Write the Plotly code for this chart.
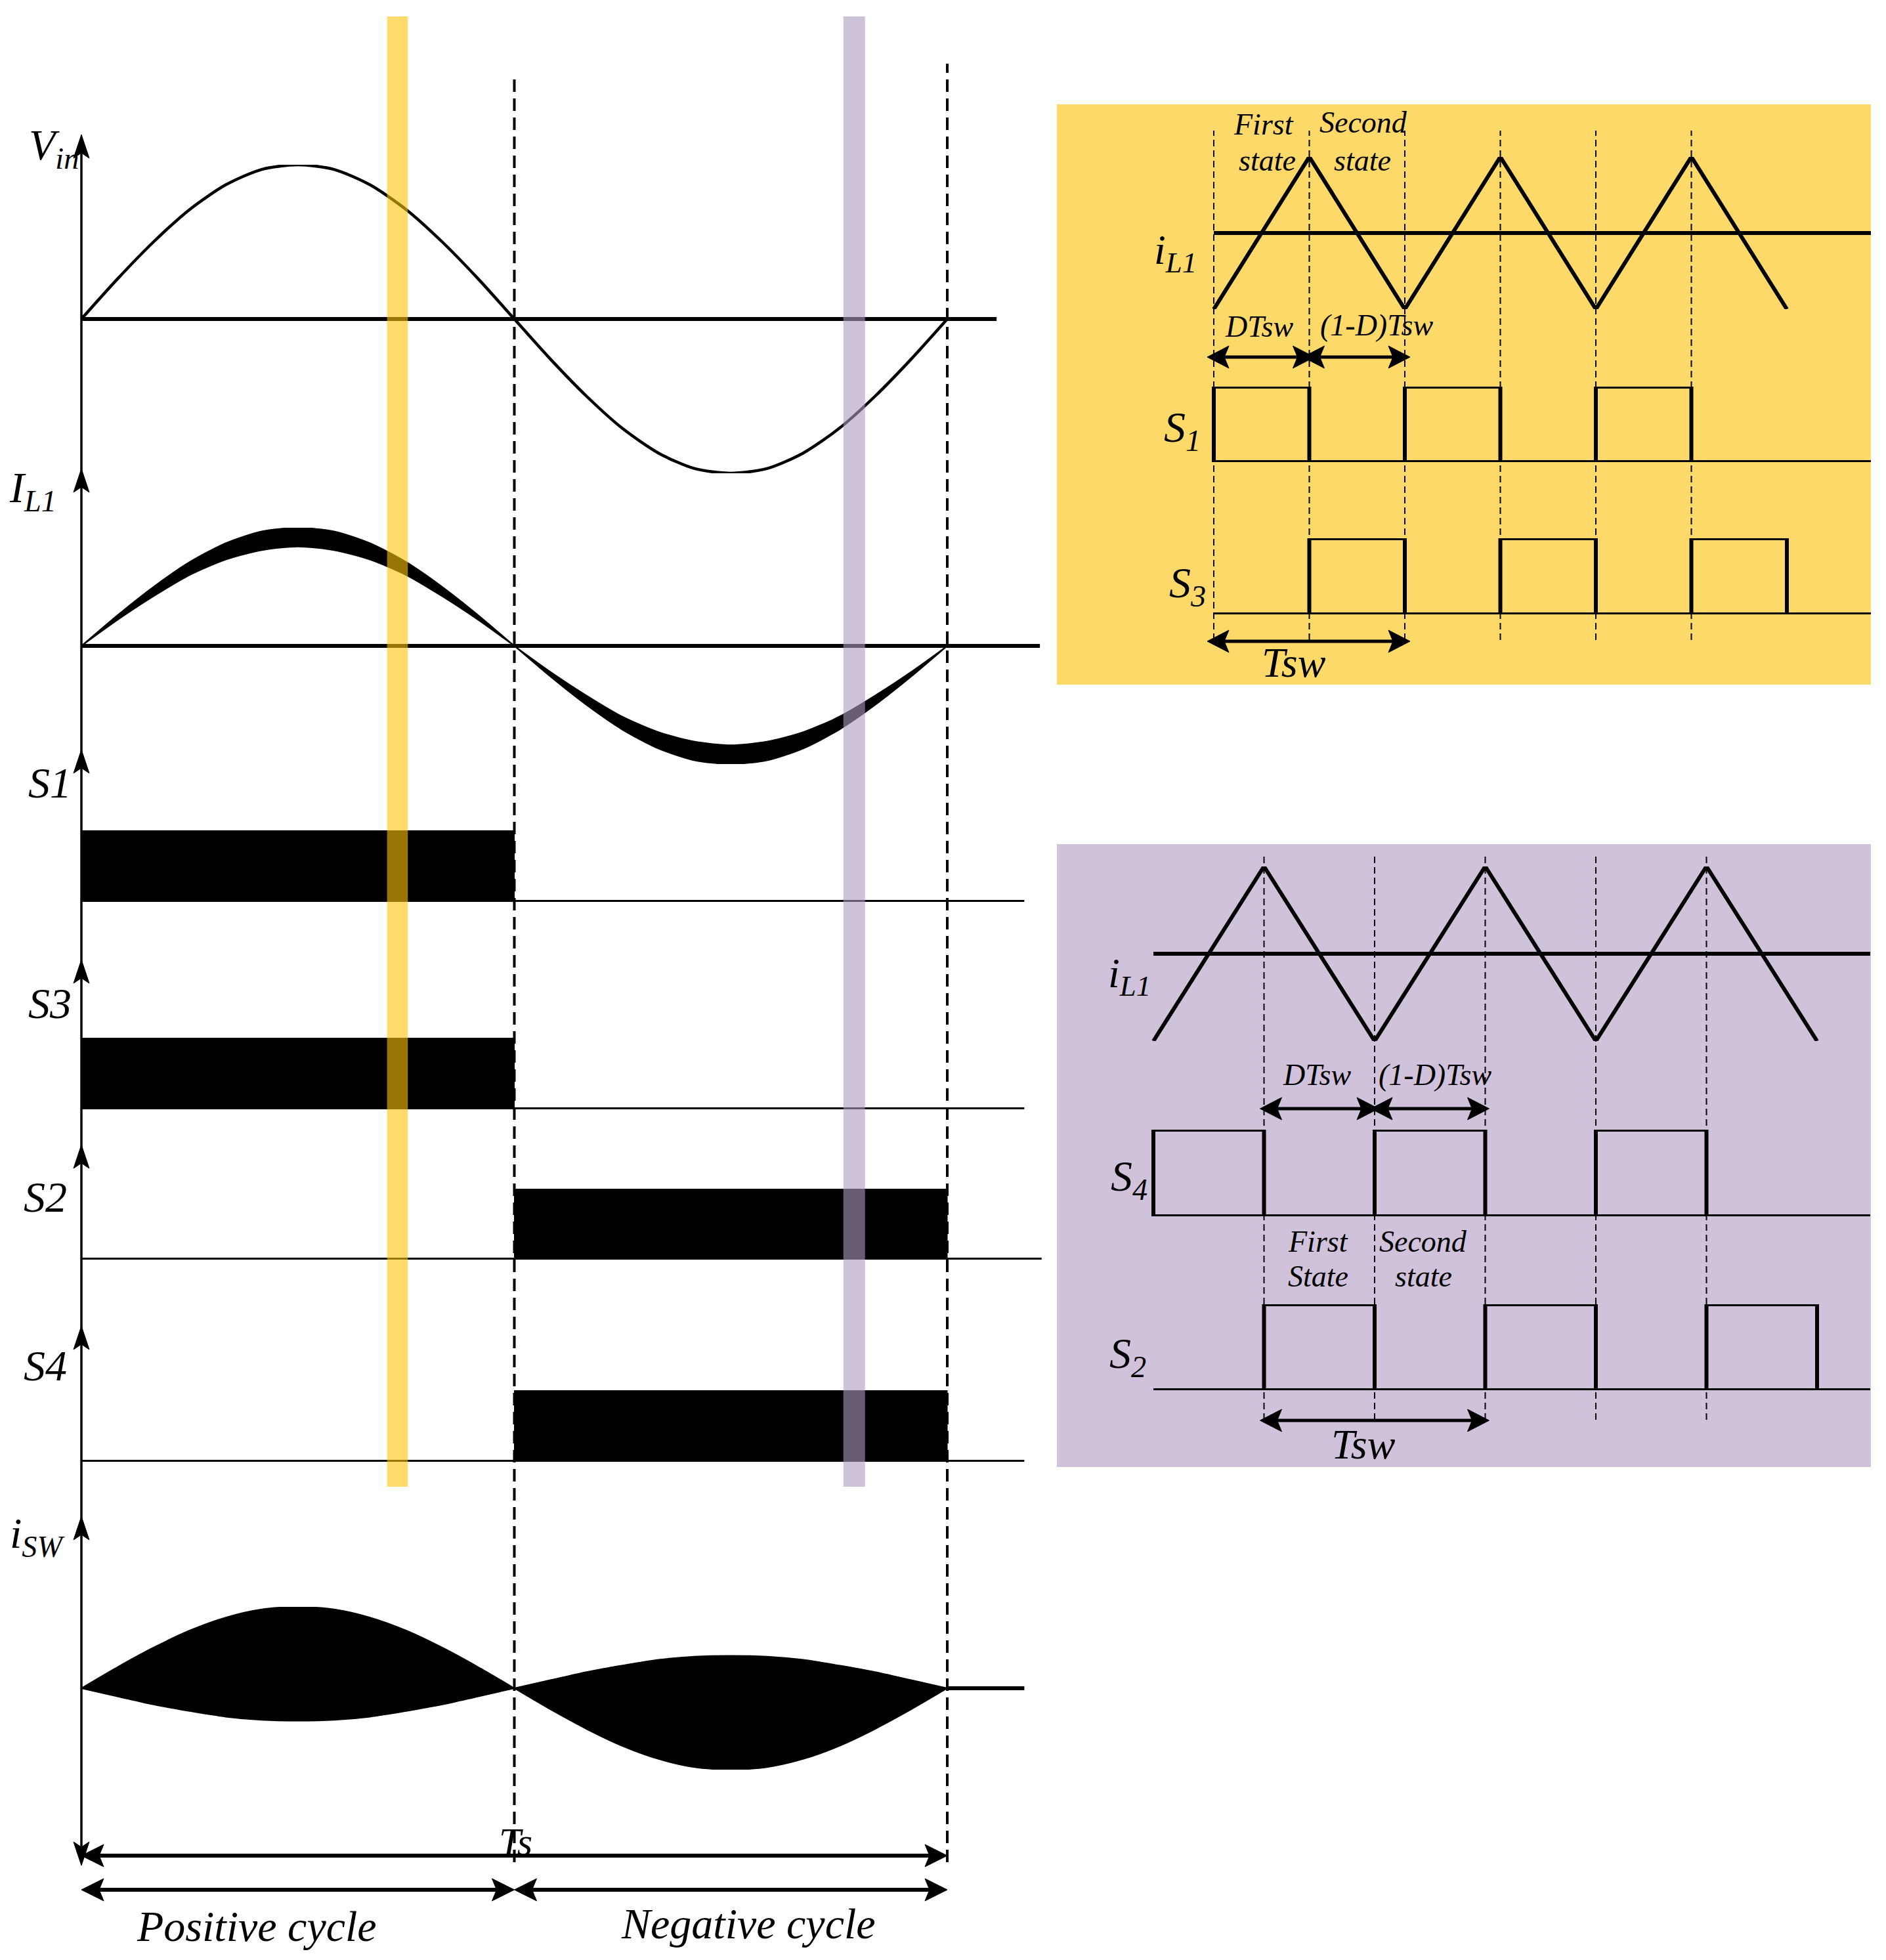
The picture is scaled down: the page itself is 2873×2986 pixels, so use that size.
import plotly.graph_objects as go

W, H = 2873, 2986
OFF = 8                     # page body margin of the html page
FW, FH = W - 2 * OFF, H - 2 * OFF
FONT = "Liberation Serif"

# ======================= DATA =======================
# Line-frequency waveforms, time as a fraction of the line period Ts
T_LINE = [0.0, 0.0417, 0.0833, 0.125, 0.1667, 0.2083, 0.25, 0.2917, 0.3333, 0.375, 0.4167, 0.4583,
          0.5, 0.5417, 0.5833, 0.625, 0.6667, 0.7083, 0.75, 0.7917, 0.8333, 0.875, 0.9167, 0.9583, 1.0]
VIN = [0.0, 0.26, 0.5, 0.71, 0.87, 0.97, 1.0, 0.97, 0.87, 0.71, 0.5, 0.26,
       0.0, -0.26, -0.5, -0.71, -0.87, -0.97, -1.0, -0.97, -0.87, -0.71, -0.5, -0.26, 0.0]
IL1_OUTER = [0.0, 0.26, 0.5, 0.71, 0.87, 0.97, 1.0, 0.97, 0.87, 0.71, 0.5, 0.26,
             0.0, -0.26, -0.5, -0.71, -0.87, -0.97, -1.0, -0.97, -0.87, -0.71, -0.5, -0.26, 0.0]
IL1_INNER = [0.0, 0.22, 0.42, 0.6, 0.73, 0.81, 0.84, 0.81, 0.73, 0.6, 0.42, 0.22,
             0.0, -0.22, -0.42, -0.6, -0.73, -0.81, -0.84, -0.81, -0.73, -0.6, -0.42, -0.22, 0.0]
T_POS_HALF = [0.0, 0.0417, 0.0833, 0.125, 0.1667, 0.2083, 0.25, 0.2917, 0.3333, 0.375, 0.4167, 0.4583, 0.5]
T_NEG_HALF = [0.5, 0.5417, 0.5833, 0.625, 0.6667, 0.7083, 0.75, 0.7917, 0.8333, 0.875, 0.9167, 0.9583, 1.0]
ISW_POS_UPPER = [0.0, 0.26, 0.5, 0.71, 0.87, 0.97, 1.0, 0.97, 0.87, 0.71, 0.5, 0.26, 0.0]
ISW_POS_LOWER = [0.0, -0.1, -0.2, -0.28, -0.35, -0.39, -0.4, -0.39, -0.35, -0.28, -0.2, -0.1, 0.0]
ISW_NEG_UPPER = [0.0, 0.1, 0.2, 0.28, 0.35, 0.39, 0.4, 0.39, 0.35, 0.28, 0.2, 0.1, 0.0]
ISW_NEG_LOWER = [0.0, -0.26, -0.5, -0.71, -0.87, -0.97, -1.0, -0.97, -0.87, -0.71, -0.5, -0.26, 0.0]

S1_ON = [0.0, 0.5]
S3_ON = [0.0, 0.5]
S2_ON = [0.5, 1.0]
S4_ON = [0.5, 1.0]

BASELINE_END = {"vin": 1.057, "il1": 1.107, "s1": 1.089, "s3": 1.089, "s2": 1.109, "s4": 1.089}
ISW_STUB = [1.0, 1.089]
BOUNDARY_T = [0.5, 1.0]
HIGHLIGHT_YELLOW_T = [0.353, 0.377]
HIGHLIGHT_PURPLE_T = [0.880, 0.905]
PERIOD_ARROWS = [[0.0, 1.0], [0.0, 0.5], [0.5, 1.0]]     # Ts, positive cycle, negative cycle

LEFT_LABELS = ["<i>V<sub>in</sub></i>", "<i>I<sub>L1</sub></i>", "<i>S1</i>", "<i>S3</i>",
               "<i>S2</i>", "<i>S4</i>", "<i>i<sub>SW</sub></i>"]

# Switching-period detail, time in units of Tsw
TRI_T = [0, 0.5, 1, 1.5, 2, 2.5, 3]
TRI_IL = [-1, 1, -1, 1, -1, 1, -1]
YEL_S1_ON = [[0, 0.5], [1, 1.5], [2, 2.5]]
YEL_S3_ON = [[0.5, 1], [1.5, 2], [2.5, 3]]
PUR_S4_ON = [[0, 0.5], [1, 1.5], [2, 2.5]]
PUR_S2_ON = [[0.5, 1], [1.5, 2], [2.5, 3]]
YEL_DASH_T = [0, 0.5, 1, 1.5, 2, 2.5]
PUR_DASH_T = [0.5, 1, 1.5, 2, 2.5]
YEL_ARROWS = [[0, 0.5], [0.5, 1], [0, 1]]          # DTsw, (1-D)Tsw, Tsw
PUR_ARROWS = [[0.5, 1], [1, 1.5], [0.5, 1.5]]
YEL_END_T = 3.44
PUR_END_T = 3.24

# ======================= GEOMETRY (page pixels) =======================
def px(p):
    return (p - OFF) / FW


def py(p):
    return 1 - (p - OFF) / FH


# time origin / unit (page pixels) of the three time axes
LEFT_T0, LEFT_UNIT = 124, 1319
YEL_T0, YEL_UNIT = 1849, 291
PUR_T0, PUR_UNIT = 1757, 337


def xrange_for(t0_px, unit_px):
    return [-(t0_px - OFF) / unit_px, (FW - (t0_px - OFF)) / unit_px]


axes = {}
axes["xaxis"] = dict(domain=[0, 1], range=xrange_for(LEFT_T0, LEFT_UNIT), anchor="y")
axes["xaxis2"] = dict(domain=[0, 1], range=xrange_for(YEL_T0, YEL_UNIT), anchor="y8")
axes["xaxis3"] = dict(domain=[0, 1], range=xrange_for(PUR_T0, PUR_UNIT), anchor="y11")

# (key, px of hi value, px of lo value, lo, hi, x axis)
ROWS = [
    ("vin", 251, 721, -1, 1, "x"),
    ("il1", 804, 1164, -1, 1, "x"),
    ("s1", 1265, 1374, 0, 1, "x"),
    ("s3", 1581, 1690, 0, 1, "x"),
    ("s2", 1811, 1919, 0, 1, "x"),
    ("s4", 2118, 2227, 0, 1, "x"),
    ("isw", 2448, 2696, -1, 1, "x"),
    ("y_il", 239, 471, -1, 1, "x2"),
    ("y_s1", 589, 704, 0, 1, "x2"),
    ("y_s3", 820, 936, 0, 1, "x2"),
    ("p_il", 1320, 1586, -1, 1, "x3"),
    ("p_s4", 1721, 1853, 0, 1, "x3"),
    ("p_s2", 1987, 2118, 0, 1, "x3"),
]
YID = {}
for i, (key, top, bot, lo, hi, xa) in enumerate(ROWS):
    yid = "y" if i == 0 else f"y{i + 1}"
    YID[key] = (xa, yid)
    axes["yaxis" if i == 0 else f"yaxis{i + 1}"] = dict(
        domain=[py(bot), py(top)], range=[lo, hi], anchor=xa)

for k in axes:
    axes[k].update(visible=False, fixedrange=True, showgrid=False, zeroline=False)

fig = go.Figure()


def line(key, x, y, width=6, shape="linear", fill=None, color="black"):
    xa, ya = YID[key]
    ln = dict(color=color, width=width, shape=shape)
    if shape == "spline":
        ln["smoothing"] = 0.75
    fig.add_trace(go.Scatter(
        x=x, y=y, xaxis=xa, yaxis=ya, mode="lines", line=ln,
        fill=fill, fillcolor="black" if fill else None,
        hoverinfo="skip", showlegend=False))


def pulses(key, intervals):
    xs, ys = [], []
    for a, b in intervals:
        xs += [a, a, b, b, None]
        ys += [0, 1, 1, 0, None]
    line(key, xs, ys, width=6)


# ---- left panel ----
line("vin", [0, BASELINE_END["vin"]], [0, 0], width=6)
line("vin", T_LINE, VIN, width=4.5, shape="spline")

line("il1", [0, BASELINE_END["il1"]], [0, 0], width=6)
line("il1", T_LINE, IL1_OUTER, width=2, shape="spline")
line("il1", T_LINE, IL1_INNER, width=2, shape="spline", fill="tonexty")

for key, on in [("s1", S1_ON), ("s3", S3_ON), ("s2", S2_ON), ("s4", S4_ON)]:
    line(key, [0, BASELINE_END[key]], [0, 0], width=6)
    line(key, [on[0], on[0], on[1], on[1], on[0]], [0, 1, 1, 0, 0], width=1, fill="toself")

line("isw", ISW_STUB, [0, 0], width=6)
line("isw", T_POS_HALF, ISW_POS_UPPER, width=2, shape="spline")
line("isw", T_POS_HALF, ISW_POS_LOWER, width=2, shape="spline", fill="tonexty")
line("isw", T_NEG_HALF, ISW_NEG_UPPER, width=2, shape="spline")
line("isw", T_NEG_HALF, ISW_NEG_LOWER, width=2, shape="spline", fill="tonexty")

# ---- yellow box ----
line("y_il", [0, YEL_END_T], [0, 0], width=6)
line("y_il", TRI_T, TRI_IL, width=6)
line("y_s1", [0, YEL_END_T], [0, 0], width=6)
pulses("y_s1", YEL_S1_ON)
line("y_s3", [0, YEL_END_T], [0, 0], width=6)
pulses("y_s3", YEL_S3_ON)

# ---- purple box ----
line("p_il", [0, PUR_END_T], [0, 0], width=6)
line("p_il", TRI_T, TRI_IL, width=6)
line("p_s4", [0, PUR_END_T], [0, 0], width=6)
pulses("p_s4", PUR_S4_ON)
line("p_s2", [0, PUR_END_T], [0, 0], width=6)
pulses("p_s2", PUR_S2_ON)

# ======================= SHAPES =======================
shapes = []
YELLOW_BOX = "#FDD96A"
PURPLE_BOX = "#CFC2DA"
shapes.append(dict(type="rect", xref="paper", yref="paper", x0=px(1610), x1=px(2850),
                   y0=py(1043), y1=py(159), fillcolor=YELLOW_BOX, line=dict(width=0), layer="below"))
shapes.append(dict(type="rect", xref="paper", yref="paper", x0=px(1610), x1=px(2850),
                   y0=py(2235), y1=py(1286), fillcolor=PURPLE_BOX, line=dict(width=0), layer="below"))

# vertical time axis
shapes.append(dict(type="line", xref="x", yref="paper", x0=0, x1=0, y0=py(2830), y1=py(212),
                   line=dict(color="black", width=3.5)))
# dashed boundaries
for t, top in zip(BOUNDARY_T, [112, 97]):
    shapes.append(dict(type="line", xref="x", yref="paper", x0=t, x1=t, y0=py(2837), y1=py(top),
                       line=dict(color="black", width=4, dash="19px,10px")))
for t in YEL_DASH_T:
    shapes.append(dict(type="line", xref="x2", yref="paper", x0=t, x1=t, y0=py(975), y1=py(199),
                       line=dict(color="black", width=2, dash="10px,6px")))
for t in PUR_DASH_T:
    shapes.append(dict(type="line", xref="x3", yref="paper", x0=t, x1=t, y0=py(2163), y1=py(1302),
                       line=dict(color="black", width=2, dash="10px,6px")))
# highlight bands
for band, col in [(HIGHLIGHT_YELLOW_T, "rgba(252,195,10,0.6)"), (HIGHLIGHT_PURPLE_T, "rgba(175,155,192,0.6)")]:
    shapes.append(dict(type="rect", xref="x", yref="paper", x0=band[0], x1=band[1],
                       y0=py(2265), y1=py(25), fillcolor=col, line=dict(width=0), layer="above"))


# ---- arrow heads drawn as paths (page pixels -> paper) ----
def head(tx, ty, dx, dy, L, hw, notch):
    nx, ny = -dy, dx
    bx, by = tx - L * dx, ty - L * dy
    pts = [(tx, ty), (bx + hw * nx, by + hw * ny), (tx - (L - notch) * dx, ty - (L - notch) * dy),
           (bx - hw * nx, by - hw * ny)]
    path = "M " + " L ".join(f"{px(a):.6f},{py(b):.6f}" for a, b in pts) + " Z"
    shapes.append(dict(type="path", xref="paper", yref="paper", path=path,
                       fillcolor="black", line=dict(color="black", width=1), layer="above"))


def double_arrow(x0, x1, y, width=6, L=34, hw=17, notch=7):
    shapes.append(dict(type="line", xref="paper", yref="paper", x0=px(x0 + L - notch), x1=px(x1 - L + notch),
                       y0=py(y), y1=py(y), line=dict(color="black", width=width)))
    head(x1, y, 1, 0, L, hw, notch)
    head(x0, y, -1, 0, L, hw, notch)


# axis arrowheads (pointing up) and the closing arrowhead (pointing down)
for tip in [205, 714, 1142, 1462, 1744, 2020, 2310]:
    head(LEFT_T0, tip, 0, -1, 36, 12, 8)
head(LEFT_T0, 2842, 0, 1, 36, 12, 8)

# period arrows under the left panel
for (a, b), y in zip(PERIOD_ARROWS, [2827, 2879, 2879]):
    double_arrow(LEFT_T0 + a * LEFT_UNIT, LEFT_T0 + b * LEFT_UNIT, y)
# box arrows (slightly overshooting the dashed lines like the original)
for (a, b), y in zip(YEL_ARROWS, [544, 544, 977]):
    double_arrow(YEL_T0 + a * YEL_UNIT - 10, YEL_T0 + b * YEL_UNIT + 8, y, width=5, L=33, hw=17, notch=7)
for (a, b), y in zip(PUR_ARROWS, [1689, 1689, 2164]):
    double_arrow(PUR_T0 + a * PUR_UNIT - 6, PUR_T0 + b * PUR_UNIT + 6, y, width=5, L=33, hw=17, notch=7)

# ======================= TEXT =======================
ann = []


def text(x_px, y_px, s, size):
    ann.append(dict(xref="paper", yref="paper", x=px(x_px), y=py(y_px), text=s, showarrow=False,
                    font=dict(family=FONT, size=size, color="black"),
                    xanchor="center", yanchor="middle"))


for (xc, yc), lab in zip([(82, 226), (50, 748), (76, 1192), (76, 1528), (69, 1823), (69, 2080), (56, 2340)],
                         LEFT_LABELS):
    text(xc, yc, lab, 66)
text(785, 2806, "<i>Ts</i>", 60)
text(391, 2934, "<i>Positive cycle</i>", 66)
text(1140, 2930, "<i>Negative cycle</i>", 66)

# yellow box labels
text(1925, 190, "<i>First</i>", 46)
text(1930, 245, "<i>state</i>", 46)
text(2077, 186, "<i>Second</i>", 46)
text(2075, 245, "<i>state</i>", 46)
text(1790, 385, "<i>i<sub>L1</sub></i>", 64)
text(1918, 497, "<i>DTsw</i>", 46)
text(2097, 495, "<i>(1-D)Tsw</i>", 46)
text(1801, 656, "<i>S<sub>1</sub></i>", 66)
text(1809, 892, "<i>S<sub>3</sub></i>", 66)
text(1971, 1010, "<i>Tsw</i>", 64)

# purple box labels
text(1720, 1487, "<i>i<sub>L1</sub></i>", 64)
text(2006, 1637, "<i>DTsw</i>", 46)
text(2186, 1637, "<i>(1-D)Tsw</i>", 46)
text(1720, 1797, "<i>S<sub>4</sub></i>", 66)
text(2008, 1891, "<i>First</i>", 46)
text(2008, 1944, "<i>State</i>", 46)
text(2168, 1891, "<i>Second</i>", 46)
text(2168, 1944, "<i>state</i>", 46)
text(1718, 2066, "<i>S<sub>2</sub></i>", 66)
text(2077, 2200, "<i>Tsw</i>", 64)

fig.update_layout(
    width=FW, height=FH, margin=dict(l=0, r=0, t=0, b=0),
    paper_bgcolor="white", plot_bgcolor="rgba(0,0,0,0)",
    showlegend=False, shapes=shapes, annotations=ann, **axes)

fig.write_html("out.html")
